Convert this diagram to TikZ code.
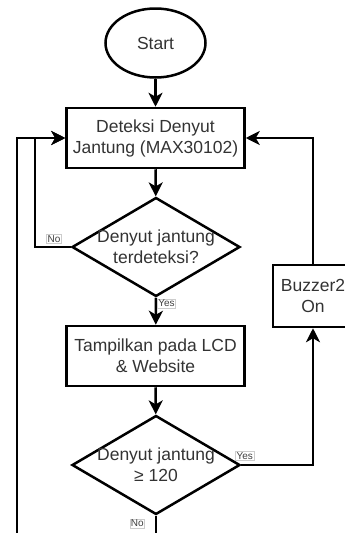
\documentclass[tikz,border=0pt]{standalone}
\usepackage{fontspec}
\setmainfont{Liberation Sans}
\usetikzlibrary{shapes.geometric,arrows.meta,positioning}

\begin{document}
\begin{tikzpicture}[
    x=1pt, y=-1pt,
    line width=2.5pt,
    startstop/.style={ellipse, draw, minimum width=100pt, minimum height=69pt, inner sep=0pt},
    process/.style={rectangle, draw, minimum width=178pt, minimum height=60pt, align=center},
    decision/.style={diamond, draw, minimum width=168pt, minimum height=99pt, inner sep=0pt},
    buzzerbox/.style={rectangle, draw, minimum width=80pt, minimum height=62pt, align=center},
    tekst/.style={text=black!80, font=\fontsize{17.5}{21}\selectfont, align=center},
    edgelabel/.style={draw=black!20, line width=0.6pt, fill=white, inner sep=1pt, text=black!75, font=\fontsize{10}{11}\selectfont},
    arrow/.style={-{Stealth[length=14pt, width=14pt, inset=4pt]}}
]
\useasboundingbox (0,0) rectangle (345,533);
\clip (0,0) rectangle (345,533);

% Nodes
\node[startstop, tekst] (start) at (155.5,43) {Start};
\node[process, tekst] (detect) at (155.5,138) {Deteksi Denyut\\Jantung (MAX30102)};
\node[decision, label={[tekst]center:Denyut jantung\\terdeteksi?}] (check) at (156,247) {};
\node[process, tekst] (show) at (155.5,356) {Tampilkan pada LCD\\\& Website};
\node[decision, label={[tekst]center:Denyut jantung\\≥ 120}] (limit) at (156,465) {};
\node[buzzerbox, tekst] (buzzer) at (313,296) {Buzzer2\\On};

% Free ends
\coordinate (noback) at (35,138);
\coordinate (loopin) at (17,545);
\coordinate (limitout) at (156,545);

% Arrows
\draw[arrow] (start) -- (detect);
\draw[arrow] (detect) -- (check);
\draw[arrow] (check.west) -| node[edgelabel, pos=0, anchor=south east, xshift=-9pt, yshift=3pt] {No} (noback) -- (detect.west);
\draw[arrow] (check.south) -- node[edgelabel, pos=0, anchor=north west, xshift=1pt, yshift=-1pt] {Yes} (show);
\draw[arrow] (show) -- (limit);
\draw[arrow] (limit.east) -| node[edgelabel, pos=0, anchor=south west, xshift=-6pt, yshift=4pt] {Yes} (buzzer.south);
\draw[arrow] (buzzer.north) |- (detect.east);
\draw (limit.south) -- node[edgelabel, pos=0, anchor=north east, xshift=-11pt, yshift=-3pt] {No} (limitout);
\draw[arrow] (loopin) |- (detect.west);

\end{tikzpicture}
\end{document}
